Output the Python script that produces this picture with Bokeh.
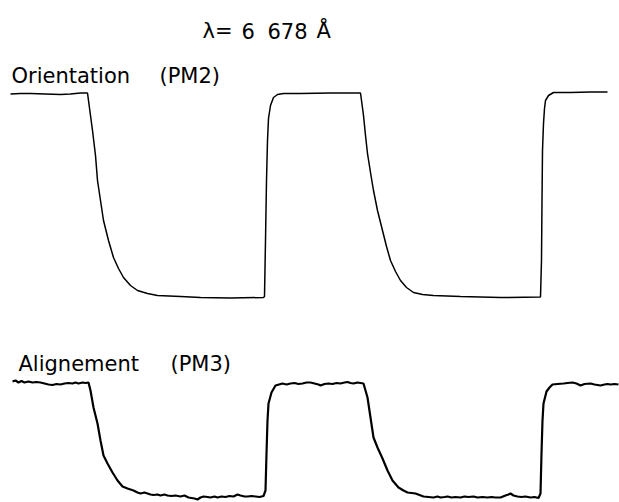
from bokeh.plotting import figure
from bokeh.models import Range1d, Label
from bokeh.embed import file_html
from bokeh.resources import INLINE

# ---------------- data (arbitrary units) ----------------
# time axis: arbitrary time units; signals: arbitrary units with 0 at the lower plateau
orient_t = [0, 10, 20, 35, 50, 60, 70, 77, 78, 80, 82, 85, 87, 90, 93, 98, 103, 108, 113,
            120, 127, 137, 147, 170, 190, 220, 253, 254, 255, 256, 257, 258, 260, 263, 267,
            273, 290, 320, 350, 351, 353, 355, 357, 360, 363, 367, 372, 376, 380, 385, 390,
            396, 403, 412, 423, 450, 490, 530, 531, 531.5, 532, 533, 534, 535, 538, 543,
            560, 580, 597]
orient_v = [203.5, 204, 204, 203.5, 203, 203.5, 204.5, 204.5, 197, 182, 167, 142, 117, 97,
            77, 57, 40, 29, 20, 12, 7, 4, 2, 1, 0, -0.5, 0, 1, 57, 117, 157, 179, 192, 200,
            203, 204, 204, 204.5, 204.5, 197, 182, 162, 144, 125, 107, 87, 67, 51, 37, 26,
            17, 10, 5, 3, 2, 1, 0, 0.5, 37, 97, 147, 174, 189, 197, 202, 205, 205, 205.5,
            205.5]

align_t = [2, 5, 8, 11, 14, 18, 22, 26, 30, 34, 38, 42, 46, 50, 54, 58, 62, 65, 68, 72, 75,
           78, 80, 83, 87, 90, 93, 97, 102, 107, 112, 117, 123, 127, 130, 134, 137, 140,
           143, 147, 150, 154, 157, 161, 165, 170, 174, 178, 181, 184, 187, 190, 193, 197,
           200, 204, 207, 211, 215, 219, 223, 227, 230, 234, 237, 241, 245, 249, 253, 255,
           256, 257, 258, 261, 265, 272, 276, 280, 284, 288, 292, 296, 300, 304, 308, 310,
           314, 318, 322, 326, 330, 334, 337, 340, 343, 347, 350, 353, 357, 360, 363, 367,
           372, 377, 382, 388, 393, 397, 401, 405, 409, 413, 418, 423, 427, 430, 434, 437,
           441, 445, 450, 454, 458, 463, 467, 472, 477, 481, 485, 490, 495, 498, 500, 503,
           507, 511, 515, 520, 524, 528, 530, 531, 532, 533, 536, 539, 542, 547, 553, 557,
           562, 566, 570, 574, 580, 584, 587, 590, 594, 597, 600, 604, 608]
align_v = [115, 116, 114, 115.5, 114, 115, 114, 114.5, 114, 113, 112, 111.5, 112.5, 112,
           113, 113.5, 113, 114, 113, 114, 113.5, 114, 106, 89, 73, 56, 41, 33, 24, 16, 10,
           8, 6, 4, 3, 4, 3, 2, 1.5, 2, 1, 2, 1, 0.5, 1, 0, 1, -1, -1.5, -2, -3, -1, 0,
           -0.5, -1, 0, -1, 0, -0.5, 0.5, 0, 2, 1, 0, 0, 0.5, 0, -0.5, 0.5, 6, 43, 76, 93,
           104, 111, 113, 112, 113, 113.5, 112.5, 113, 114, 114, 113, 112, 111, 112.5, 113,
           112.5, 113.5, 113, 114, 114.5, 113.5, 113, 114, 113.5, 113, 99, 79, 59, 49, 38,
           26, 16, 9, 6, 4, 3.5, 3, 1.5, 0, -0.5, -1, 0, -1, -0.5, 0, -1, -0.5, -1, 0, -0.5,
           0, -1, -0.5, -1, -0.5, -1, -1, 1, 2, 3, 1, 0, -0.5, 0, -1, -0.5, -1.5, 3, 43, 76,
           93, 105, 109, 112, 112.5, 113, 113.5, 114, 113, 111, 112.5, 113, 112, 111.5, 111,
           112, 112.5, 112, 112.5, 112]

title_parts = ["λ=", "6", "678", "Å"]
orient_label = ["Orientation", "(PM2)"]
align_label = ["Alignement", "(PM3)"]

# ---------------- layout (page pixel geometry) ----------------
W, H = 619, 502
FRAME_TOP, FRAME_BOTTOM = 0, H          # page px
FRAME_LEFT = 0
T0_PX = 10                              # page x of time 0, 1 px per time unit


def y_range(zero_px, full_px, full_val):
    k = (zero_px - full_px) / full_val
    return Range1d(-(FRAME_BOTTOM - zero_px) / k, (zero_px - FRAME_TOP) / k)


p = figure(width=W, height=H, output_backend="svg", toolbar_location=None,
           x_range=Range1d(FRAME_LEFT - T0_PX, FRAME_LEFT - T0_PX + W),
           y_range=y_range(297, 92.5, 204.5),
           x_axis_type=None, y_axis_type=None, min_border=0)
p.extra_y_ranges = {"align": y_range(496, 382.5, 113.5)}
p.outline_line_color = None
p.background_fill_color = "white"
p.border_fill_color = "white"

p.line(orient_t, orient_v, line_color="black", line_width=1.5)
p.line(align_t, align_v, line_color="black", line_width=2.2, y_range_name="align")


def lab(text, px, py):
    p.add_layout(Label(x=px - T0_PX, y=297 - py, text=text, text_font="DejaVu Sans",
                       text_font_size="21px", text_color="black",
                       text_baseline="alphabetic", text_align="left"))


for txt, px in zip(title_parts, [202, 241, 267, 316]):
    lab(txt, px, 30)
for txt, px in zip(orient_label, [11, 159]):
    lab(txt, px, 75)
for txt, px in zip(align_label, [18, 170]):
    lab(txt, px, 363)

open("out.html", "w").write(file_html(p, INLINE))
